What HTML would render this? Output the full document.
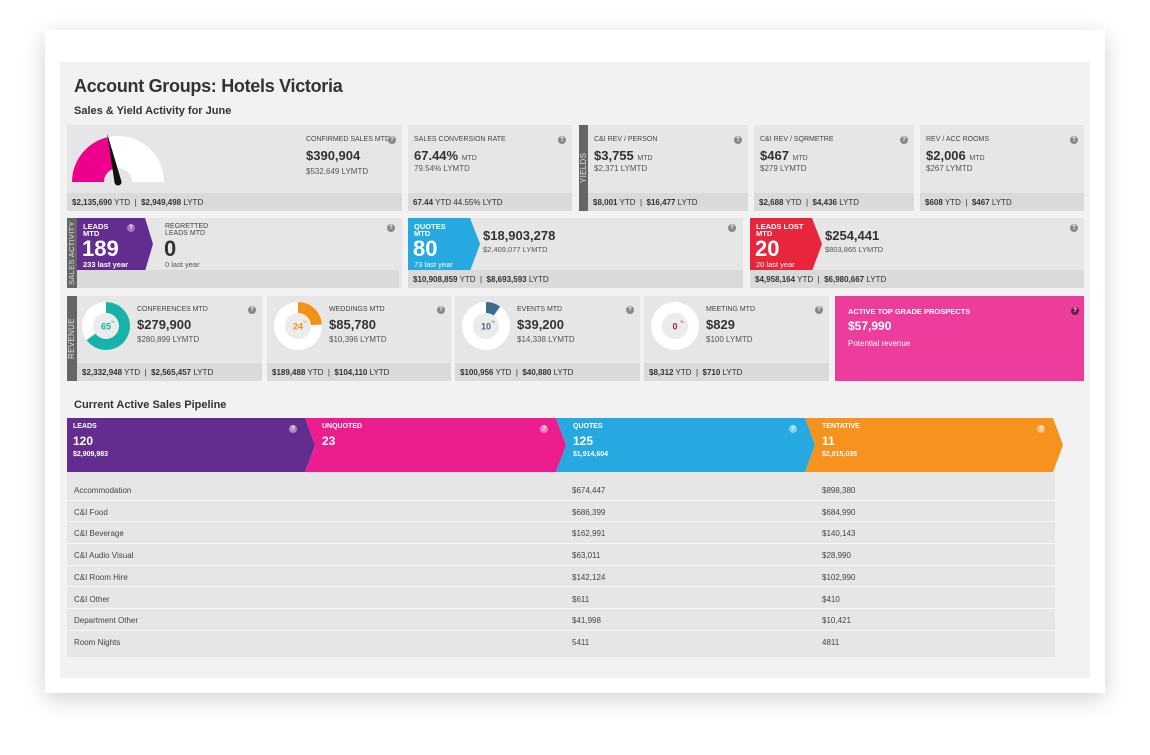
<!DOCTYPE html>
<html><head><meta charset="utf-8"><style>
*{margin:0;padding:0;box-sizing:border-box}
body{width:1150px;height:755px;background:#fff;font-family:"Liberation Sans",sans-serif;color:#333;position:relative;overflow:hidden}
.a{position:absolute}
.card{position:absolute;background:#e6e6e6}
.ft{position:absolute;left:0;right:0;bottom:0;height:18px;background:#dadada;font-size:8px;padding:5px 5px 0;color:#333;white-space:nowrap}
.ft b{font-weight:bold}
.lb{position:absolute;font-size:7px;text-transform:uppercase;color:#444;white-space:nowrap}
.v{position:absolute;font-size:13px;font-weight:bold;color:#333;white-space:nowrap}
.v small{font-size:7px;font-weight:normal;color:#555}
.s{position:absolute;font-size:8px;color:#555;white-space:nowrap}
.q{position:absolute;width:8px;height:8px;border-radius:50%;background:#888;color:#fff;font-size:6px;font-weight:bold;text-align:center;line-height:8px}
.bar{position:absolute;background:#666;color:#ddd;font-size:8px;writing-mode:vertical-rl;transform:rotate(180deg);text-align:center;letter-spacing:.3px}
.row{position:absolute;left:67px;width:988px;height:21.7px;font-size:8px;color:#444;border-bottom:1px solid #f4f4f4;padding:8px 0 0 7px}
.row span{position:absolute;top:7px}
</style></head><body>
<div class="a" style="left:45px;top:30px;width:1060px;height:663px;background:#fff;box-shadow:0 6px 22px rgba(0,0,0,.18)"></div>
<div class="a" style="left:60px;top:62px;width:1030px;height:616px;background:#f2f2f2"></div>
<div class="a" style="left:74px;top:76px;font-size:18px;font-weight:bold;letter-spacing:-.3px">Account Groups: Hotels Victoria</div>
<div class="a" style="left:74px;top:105px;font-size:11px;font-weight:bold">Sales &amp; Yield Activity for June</div>

<!-- Row 1 -->
<div class="card" style="left:67px;top:125px;width:335px;height:86px">
<svg class="a" style="left:0;top:0" width="120" height="70" id="gauge"></svg>
<div class="lb" style="left:239px;top:11px">Confirmed Sales MTD</div><div class="q" style="left:321px;top:11px">?</div>
<div class="v" style="left:239px;top:23px">$390,904</div>
<div class="s" style="left:239px;top:42px">$532,649 LYMTD</div>
<div class="ft"><b>$2,135,690</b> YTD &nbsp;|&nbsp; <b>$2,949,498</b> LYTD</div></div>

<div class="card" style="left:408px;top:125px;width:164px;height:86px">
<div class="lb" style="left:6px;top:11px">Sales Conversion Rate</div><div class="q" style="left:150px;top:11px">?</div>
<div class="v" style="left:6px;top:23px">67.44% <small>MTD</small></div>
<div class="s" style="left:6px;top:39px">79.54% LYMTD</div>
<div class="ft"><b>67.44</b> YTD 44.55% LYTD</div></div>

<div class="bar" style="left:579px;top:125px;width:9px;height:86px;line-height:9px">YIELDS</div>
<div class="card" style="left:588px;top:125px;width:160px;height:86px">
<div class="lb" style="left:6px;top:11px">C&amp;I Rev / Person</div><div class="q" style="left:146px;top:11px">?</div>
<div class="v" style="left:6px;top:23px">$3,755 <small>MTD</small></div>
<div class="s" style="left:6px;top:39px">$2,371 LYMTD</div>
<div class="ft"><b>$8,001</b> YTD &nbsp;|&nbsp; <b>$16,477</b> LYTD</div></div>
<div class="card" style="left:754px;top:125px;width:160px;height:86px">
<div class="lb" style="left:6px;top:11px">C&amp;I Rev / Sqrmetre</div><div class="q" style="left:146px;top:11px">?</div>
<div class="v" style="left:6px;top:23px">$467 <small>MTD</small></div>
<div class="s" style="left:6px;top:39px">$279 LYMTD</div>
<div class="ft"><b>$2,688</b> YTD &nbsp;|&nbsp; <b>$4,436</b> LYTD</div></div>
<div class="card" style="left:920px;top:125px;width:164px;height:86px">
<div class="lb" style="left:6px;top:11px">Rev / Acc Rooms</div><div class="q" style="left:150px;top:11px">?</div>
<div class="v" style="left:6px;top:23px">$2,006 <small>MTD</small></div>
<div class="s" style="left:6px;top:39px">$267 LYMTD</div>
<div class="ft"><b>$608</b> YTD &nbsp;|&nbsp; <b>$467</b> LYTD</div></div>

<!-- Row 2 -->
<div class="card" style="left:67px;top:218px;width:335px;height:70px">
<div class="a" style="left:10px;top:0;width:76px;height:53px;background:#622d8e;clip-path:polygon(0 0,68px 0,76px 26px,68px 53px,0 53px)"></div>
<div class="a" style="left:16px;top:5px;font-size:7.5px;font-weight:bold;color:#fff;line-height:7px">LEADS<br>MTD</div>
<div class="q" style="left:60px;top:6px;background:#9c7ab8">?</div>
<div class="a" style="left:15px;top:18px;font-size:22px;font-weight:bold;color:#fff">189</div>
<div class="a" style="left:16px;top:42px;font-size:7.5px;font-weight:bold;color:#fff">233 last year</div>
<div class="lb" style="left:98px;top:5px;line-height:7px">Regretted<br>Leads MTD</div>
<div class="a" style="left:97px;top:18px;font-size:22px;font-weight:bold">0</div>
<div class="s" style="left:98px;top:42px;font-size:7.5px">0 last year</div>
<div class="q" style="left:320px;top:6px">?</div>
<div class="ft" style="left:10px;right:3px"></div></div>
<div class="bar" style="left:67px;top:218px;width:10px;height:70px;line-height:10px;font-size:7.5px">SALES ACTIVITY</div>

<div class="card" style="left:408px;top:218px;width:335px;height:70px">
<div class="a" style="left:0;top:0;width:72px;height:53px;background:#25a9e0;clip-path:polygon(0 0,62px 0,72px 26px,62px 53px,0 53px)"></div>
<div class="a" style="left:6px;top:5px;font-size:7.5px;font-weight:bold;color:#fff;line-height:7px">QUOTES<br>MTD</div>
<div class="a" style="left:5px;top:18px;font-size:22px;font-weight:bold;color:#fff">80</div>
<div class="a" style="left:6px;top:42px;font-size:7.5px;color:#fff">73 last year</div>
<div class="v" style="left:75px;top:10px">$18,903,278</div>
<div class="s" style="left:75px;top:27px;font-size:7.5px">$2,409,077 LYMTD</div>
<div class="q" style="left:320px;top:6px">?</div>
<div class="ft"><b>$10,908,859</b> YTD &nbsp;|&nbsp; <b>$8,693,593</b> LYTD</div></div>

<div class="card" style="left:750px;top:218px;width:334px;height:70px">
<div class="a" style="left:0;top:0;width:72px;height:53px;background:#e8263b;clip-path:polygon(0 0,62px 0,72px 26px,62px 53px,0 53px)"></div>
<div class="a" style="left:6px;top:5px;font-size:7.5px;font-weight:bold;color:#fff;line-height:7px">LEADS LOST<br>MTD</div>
<div class="a" style="left:5px;top:18px;font-size:22px;font-weight:bold;color:#fff">20</div>
<div class="a" style="left:6px;top:42px;font-size:7.5px;color:#fff">20 last year</div>
<div class="v" style="left:75px;top:10px">$254,441</div>
<div class="s" style="left:75px;top:27px;font-size:7.5px">$803,865 LYMTD</div>
<div class="q" style="left:320px;top:6px">?</div>
<div class="ft"><b>$4,958,164</b> YTD &nbsp;|&nbsp; <b>$6,980,667</b> LYTD</div></div>

<!-- Row 3 -->
<div id="revrow"></div>
<div class="bar" style="left:67px;top:296px;width:10px;height:85px;line-height:10px">REVENUE</div>
<div class="card" style="left:835px;top:296px;width:249px;height:85px;background:#ec3c9c">
<div class="a" style="left:13px;top:11px;font-size:7.5px;font-weight:bold;color:#fff">ACTIVE TOP GRADE PROSPECTS</div>
<div class="a" style="left:13px;top:23px;font-size:12px;font-weight:bold;color:#fff">$57,990</div>
<div class="a" style="left:13px;top:43px;font-size:8px;color:#fff">Potential revenue</div>
<div class="q" style="left:236px;top:11px;background:#6a1f4a">?</div></div>

<div class="a" style="left:74px;top:399px;font-size:11px;font-weight:bold">Current Active Sales Pipeline</div>
<div id="pipe"></div>
<div class="a" style="left:67px;top:472px;width:988px;height:185px;background:#e6e6e6"></div>
<div id="tbl"></div>

<script>
// Gauge
const gaugeValue = 0.43; // fraction of semicircle filled
// Donut data
const revCategories = ["Conferences MTD","Weddings MTD","Events MTD","Meeting MTD"];
const revPercents = [65, 24, 10, 0];
const revValues = ["$279,900","$85,780","$39,200","$829"];
const revLymtd = ["$280,899 LYMTD","$10,396 LYMTD","$14,338 LYMTD","$100 LYMTD"];
const revYtd = ["$2,332,948","$189,488","$100,956","$8,312"];
const revLytd = ["$2,565,457","$104,110","$40,880","$710"];
const revColors = ["#17b3ab","#f39314","#3b6d8c","#9b2a3c"];
// Pipeline data
const pipeStages = ["LEADS","UNQUOTED","QUOTES","TENTATIVE"];
const pipeCounts = ["120","23","125","11"];
const pipeValues = ["$2,909,983","","$1,914,604","$2,015,035"];
const pipeColors = ["#622d8e","#ec1e8f","#25a9e0","#f6921e"];
// Table data
const tblRows = ["Accommodation","C&I Food","C&I Beverage","C&I Audio Visual","C&I Room Hire","C&I Other","Department Other","Room Nights"];
const tblQuotes = ["$674,447","$686,399","$162,991","$63,011","$142,124","$611","$41,998","5411"];
const tblTentative = ["$898,380","$684,990","$140,143","$28,990","$102,990","$410","$10,421","4811"];

const NS="http://www.w3.org/2000/svg";
function arc(cx,cy,r0,r1,a0,a1){
  const p=(r,a)=>[cx+r*Math.sin(a),cy-r*Math.cos(a)];
  const large=(a1-a0)>Math.PI?1:0;
  const [x1,y1]=p(r1,a0),[x2,y2]=p(r1,a1),[x3,y3]=p(r0,a1),[x4,y4]=p(r0,a0);
  return `M${x1},${y1}A${r1},${r1} 0 ${large} 1 ${x2},${y2}L${x3},${y3}A${r0},${r0} 0 ${large} 0 ${x4},${y4}Z`;
}
const g=document.getElementById('gauge');
const gcx=51,gcy=57,gr1=46,gr0=14;
const bg=document.createElementNS(NS,'path');bg.setAttribute('d',arc(gcx,gcy,gr0,gr1,-Math.PI/2,Math.PI/2));bg.setAttribute('fill','#fff');


g.appendChild(bg);
const ga=-Math.PI/2+gaugeValue*Math.PI;
const fg=document.createElementNS(NS,'path');fg.setAttribute('d',arc(gcx,gcy,gr0,gr1,-Math.PI/2,ga));fg.setAttribute('fill','#ec008c');


g.appendChild(fg);
const nx=gcx+50*Math.sin(ga),ny=gcy-50*Math.cos(ga);
const px=Math.cos(ga)*3.5,py=Math.sin(ga)*3.5;
const nd=document.createElementNS(NS,'polygon');
nd.setAttribute('points',`${nx},${ny} ${gcx+px},${gcy+py} ${gcx-px},${gcy-py}`);nd.setAttribute('fill','#111');


g.appendChild(nd);
const nc=document.createElementNS(NS,'circle');nc.setAttribute('cx',gcx);nc.setAttribute('cy',gcy);nc.setAttribute('r',3.5);nc.setAttribute('fill','#111');


g.appendChild(nc);

const revLefts=[67,267,455,644],revW=[195,184,185,185];
const rr=document.getElementById('revrow');
revCategories.forEach((c,i)=>{
  const d=document.createElement('div');d.className='card';
  
  
  d.style.cssText=`left:${revLefts[i]}px;top:296px;width:${revW[i]}px;height:85px`;
  const o=i===0?12:4;
  const cx=o+27,cy=30;
  let svg=`<svg class="a" style="left:0;top:0" width="70" height="62"><path d="${arc(cx,cy,13,24,0,Math.PI*2*0.9999)}" fill="#fff"/><circle cx="${cx}" cy="${cy}" r="13" fill="#ececec"/>`;
  if(revPercents[i]>0) svg+=`<path d="${arc(cx,cy,13,24,0,Math.PI*2*Math.min(revPercents[i],99.99)/100)}" fill="${revColors[i]}"/>`;
  svg+=`<text x="${cx}" y="${cy+3.5}" text-anchor="middle" font-size="9" font-weight="bold" fill="${revColors[i]}" font-family="Liberation Sans">${revPercents[i]}</text><text x="${cx+5}" y="${cy-3}" font-size="4" fill="${revColors[i]}">%</text></svg>`;
  const tx=o+58;
  d.innerHTML=svg+`<div class="lb" style="left:${tx}px;top:10px">${c}</div><div class="q" style="left:${revW[i]-14}px;top:10px">?</div>
  <div class="v" style="left:${tx}px;top:21px">${revValues[i]}</div><div class="s" style="left:${tx}px;top:39px">${revLymtd[i]}</div>
  <div class="ft" style="left:${i===0?10:0}px"><b>${revYtd[i]}</b> YTD &nbsp;|&nbsp; <b>${revLytd[i]}</b> LYTD</div>`;
  rr.appendChild(d);
});

const pp=document.getElementById('pipe');
const pStarts=[67,305,556,805],pEnd=1053,pTip=10;
pipeStages.forEach((s,i)=>{
  const x=pStarts[i];
  const nextX=i<3?pStarts[i+1]:pEnd;
  const d=document.createElement('div');d.className='a';
  
  
  const w=nextX-x+pTip;
  const clip=i===0?`polygon(0 0,${w-pTip}px 0,${w}px 27px,${w-pTip}px 54px,0 54px)`:`polygon(0 0,${w-pTip}px 0,${w}px 27px,${w-pTip}px 54px,0 54px,${pTip}px 27px)`;
  d.style.cssText=`left:${x}px;top:418px;width:${w}px;height:54px;background:${pipeColors[i]};clip-path:${clip};z-index:${10-i};color:#fff`;
  const tx=i===0?6:17;
  d.innerHTML=`<div class="a" style="left:${tx}px;top:5px;font-size:7px;font-weight:bold">${s}</div>
  <div class="a" style="left:${tx}px;top:16px;font-size:12px;font-weight:bold">${pipeCounts[i]}</div>
  <div class="a" style="left:${tx}px;top:33px;font-size:7px;font-weight:bold">${pipeValues[i]}</div>
  <div class="q" style="left:${w-pTip-16}px;top:7px;background:rgba(255,255,255,.45)">?</div>`;
  pp.appendChild(d);
});

const tb=document.getElementById('tbl');
tblRows.forEach((r,i)=>{
  const d=document.createElement('div');d.className='row';
  
  
  d.style.top=(479+i*21.7)+'px';
  d.style.borderBottom=i<7?'1px solid #f6f6f6':'none';
  d.innerHTML=`<span style="left:7px">${r.replace('&','&amp;')}</span><span style="left:505px">${tblQuotes[i]}</span><span style="left:755px">${tblTentative[i]}</span>`;
  tb.appendChild(d);
});
</script>
</body></html>
